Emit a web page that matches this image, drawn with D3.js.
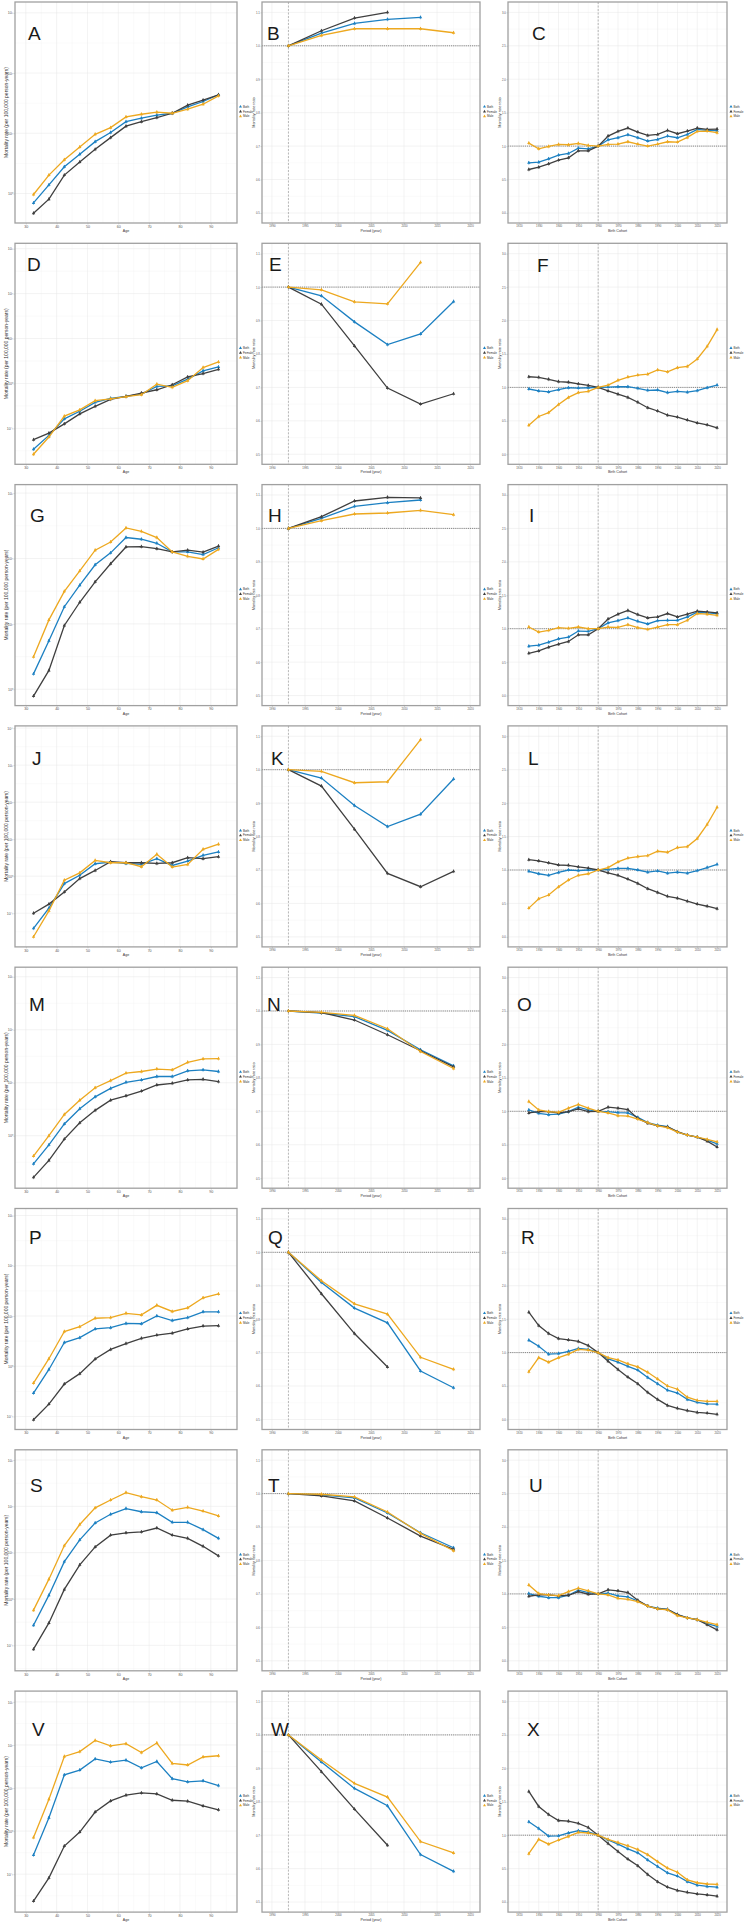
<!DOCTYPE html>
<html><head><meta charset="utf-8">
<script src="https://cdn.jsdelivr.net/npm/d3@7"></script>
<style>
body{margin:0;background:#fff}
svg text{font-family:"Liberation Sans",Arial,sans-serif}
</style>
</head><body>
<svg id="chart" width="750" height="1932"></svg>
<script>
// ---------------- DATA ----------------
const sexes = ["Both","Female","Male"];
const ages = [32.5,37.5,42.5,47.5,52.5,57.5,62.5,67.5,72.5,77.5,82.5,87.5,92.5];
const periods = [1992.5,1997.5,2002.5,2007.5,2012.5,2017.5];
const cohorts = [1925,1930,1935,1940,1945,1950,1955,1960,1965,1970,1975,1980,1985,1990,1995,2000,2005,2010,2015,2020];
const ageTicks = [30,40,50,60,70,80,90];
const periodTicks = [1990,1995,2000,2005,2010,2015,2020];
const cohortTicks = [1920,1930,1940,1950,1960,1970,1980,1990,2000,2010,2020];
const periodRatioTicks = [0.5,0.6,0.7,0.8,0.9,1.0,1.1];
const cohortRatioTicks = [0,0.5,1,1.5,2,2.5,3];

// Age effects: mortality rate per 100,000 person-years
const A_both   = [0.698,1.39,2.78,4.47,7.26,10.3,15.6,17.8,20.0,21.5,27.5,33.7,43.6];
const A_female = [0.470,0.805,2.02,3.33,5.41,8.47,13.1,15.6,18.2,21.5,29.3,35.5,43.6];
const A_male   = [0.962,2.02,3.64,5.92,9.62,12.4,18.7,20.7,22.4,21.5,25.1,30.4,41.9];
const D_both   = [0.0342,0.0697,0.163,0.240,0.380,0.467,0.516,0.581,0.859,0.887,1.25,1.91,2.33];
const D_female = [0.0560,0.0785,0.126,0.210,0.310,0.443,0.516,0.611,0.724,0.935,1.40,1.66,2.07];
const D_male   = [0.0265,0.0641,0.187,0.258,0.414,0.451,0.507,0.562,0.966,0.817,1.15,2.26,3.01];
const G_both   = [1.72,5.51,18.3,39.0,80.2,122,209,197,171,126,126,115,146];
const G_female = [0.787,1.94,9.44,21.4,44.0,83.2,150,152,141,126,134,125,155];
const G_male   = [3.13,11.5,31.4,64.6,134,179,293,260,209,126,108,98.4,138];
const J_both   = [0.0390,0.137,0.631,1.06,2.17,2.41,2.21,2.08,2.97,1.95,2.56,3.66,4.52];
const J_female = [0.100,0.176,0.374,0.863,1.43,2.46,2.31,2.31,2.21,2.31,3.16,2.97,3.37];
const J_male   = [0.0231,0.116,0.778,1.23,2.67,2.31,2.31,1.80,3.90,1.76,2.08,5.34,7.31];
const M_both   = [0.295,0.673,1.67,3.24,5.42,7.82,10.2,11.3,13.1,13.1,16.8,17.5,16.3];
const M_female = [0.164,0.342,0.863,1.75,3.01,4.68,5.66,6.95,9.06,9.75,11.3,11.6,10.5];
const M_male   = [0.414,1.00,2.52,4.68,8.05,11.0,15.2,16.3,18.1,17.5,24.3,28.1,28.5];
const P_both   = [0.292,0.861,2.96,3.70,5.52,5.86,7.11,7.00,10.0,8.13,9.29,12.1,12.1];
const P_female = [0.0861,0.176,0.442,0.711,1.39,2.16,2.83,3.59,4.16,4.55,5.52,6.31,6.40];
const P_male   = [0.462,1.41,4.90,6.12,9.02,9.29,11.3,10.5,16.3,12.3,14.5,23.0,27.5];
const S_both   = [0.272,1.21,6.41,18.9,43.8,67.3,89.5,76.4,72.8,45.2,45.2,31.4,20.4];
const S_female = [0.0826,0.304,1.61,5.47,13.3,23.9,26.8,28.1,34.0,23.9,20.4,13.7,8.53];
const S_male   = [0.574,2.68,14.2,40.5,92.5,137,198,161,137,82.6,95.3,78.9,62.1];
const V_both   = [0.279,2.04,20.2,26.1,47.3,39.9,44.3,29.4,41.3,16.5,13.9,14.7,11.4];
const V_female = [0.0238,0.0822,0.450,0.951,2.77,5.02,6.82,7.69,7.29,5.20,4.94,3.83,3.12];
const V_male   = [0.711,5.47,54.2,70.0,127,95.1,107,66.5,111,37.3,34.3,52.5,56.1];

// Period effects: mortality rate ratio (null = not estimated)
const B_both   = [1,1.038,1.067,1.079,1.085,null];
const B_female = [1,1.045,1.083,1.100,null,null];
const B_male   = [1,1.031,1.051,1.051,1.051,1.039];
const E_both   = [1,0.974,0.896,0.828,0.860,0.957];
const E_female = [1,0.949,0.824,0.698,0.650,0.681];
const E_male   = [1,0.992,0.956,0.950,1.074,null];
const H_both   = [1,1.030,1.066,1.077,1.085,null];
const H_female = [1,1.035,1.082,1.093,1.091,null];
const H_male   = [1,1.023,1.043,1.046,1.054,1.041];
const K_both   = [1,0.975,0.893,0.830,0.867,0.972];
const K_female = [1,0.951,0.822,0.690,0.650,0.696];
const K_male   = [1,0.995,0.961,0.964,1.090,null];
const N_both   = [1,0.994,0.983,0.942,0.884,0.836];
const N_female = [1,0.995,0.973,0.929,0.881,0.833];
const N_male   = [1,0.996,0.987,0.947,0.879,0.828];
const Q_both   = [1,0.910,0.833,0.789,0.645,0.595];
const Q_female = [1,0.876,0.757,0.657,null,null];
const Q_male   = [1,0.915,0.846,0.815,0.686,0.650];
const T_both   = [1,0.996,0.987,0.942,0.883,0.838];
const T_female = [1,0.993,0.978,0.927,0.873,0.833];
const T_male   = [1,0.998,0.990,0.945,0.881,0.829];
const W_both   = [1,0.919,0.840,0.788,0.642,0.592];
const W_female = [1,0.890,0.778,0.670,null,null];
const W_male   = [1,0.925,0.855,0.814,0.681,0.647];

// Cohort effects: mortality rate ratio
const C_both   = [0.75,0.76,0.81,0.865,0.89,0.97,0.96,1.0,1.095,1.125,1.17,1.125,1.075,1.1,1.15,1.125,1.175,1.25,1.235,1.23];
const C_female = [0.65,0.685,0.735,0.79,0.825,0.93,0.93,1.0,1.15,1.22,1.27,1.21,1.16,1.175,1.235,1.185,1.225,1.27,1.25,1.255];
const C_male   = [1.045,0.96,0.995,1.025,1.02,1.04,1.01,1.0,1.025,1.03,1.065,1.03,1.0,1.03,1.065,1.06,1.13,1.22,1.225,1.2];
const F_both   = [0.976,0.947,0.932,0.966,0.995,0.990,0.995,1.0,1.005,1.01,1.01,0.986,0.957,0.961,0.923,0.942,0.928,0.952,0.995,1.034];
const F_female = [1.159,1.150,1.121,1.087,1.077,1.053,1.029,1.0,0.947,0.899,0.850,0.778,0.696,0.647,0.585,0.556,0.512,0.469,0.440,0.396];
const F_male   = [0.435,0.565,0.623,0.744,0.850,0.923,0.942,1.0,1.034,1.106,1.155,1.184,1.198,1.261,1.232,1.295,1.314,1.425,1.614,1.865];
const I_both   = [0.738,0.753,0.798,0.849,0.874,0.965,0.96,1.0,1.086,1.121,1.161,1.111,1.071,1.121,1.126,1.126,1.176,1.247,1.237,1.227];
const I_female = [0.632,0.667,0.723,0.768,0.809,0.909,0.909,1.0,1.146,1.217,1.272,1.212,1.161,1.176,1.227,1.176,1.217,1.262,1.252,1.237];
const I_male   = [1.025,0.95,0.975,1.015,1.005,1.025,1.0,1.0,1.025,1.02,1.06,1.015,0.99,1.025,1.06,1.06,1.126,1.227,1.217,1.2];
const L_both   = [0.981,0.944,0.921,0.963,1.0,0.991,1.0,1.0,1.009,1.023,1.023,1.0,0.967,0.986,0.953,0.967,0.953,0.991,1.037,1.084];
const L_female = [1.154,1.136,1.107,1.075,1.070,1.047,1.028,1.0,0.958,0.921,0.864,0.799,0.720,0.664,0.607,0.579,0.533,0.491,0.458,0.421];
const L_male   = [0.430,0.570,0.626,0.748,0.850,0.921,0.944,1.0,1.037,1.121,1.178,1.201,1.215,1.280,1.266,1.336,1.350,1.472,1.682,1.939];
const O_both   = [1.020,0.970,0.949,0.959,0.995,1.061,1.020,1.0,0.995,0.980,0.975,0.909,0.832,0.792,0.772,0.690,0.645,0.614,0.569,0.513];
const O_female = [0.975,0.995,0.995,0.975,0.995,1.036,0.995,1.0,1.061,1.046,1.025,0.893,0.822,0.782,0.767,0.695,0.645,0.614,0.553,0.467];
const O_male   = [1.147,1.020,0.995,0.985,1.046,1.102,1.046,1.0,0.975,0.934,0.929,0.883,0.832,0.782,0.756,0.690,0.645,0.614,0.579,0.543];
const R_both   = [1.186,1.095,0.976,0.986,1.019,1.062,1.048,1.0,0.905,0.857,0.795,0.738,0.629,0.533,0.438,0.395,0.3,0.257,0.233,0.229];
const R_female = [1.605,1.405,1.286,1.210,1.190,1.167,1.105,1.0,0.871,0.748,0.633,0.533,0.405,0.3,0.210,0.167,0.133,0.105,0.095,0.076];
const R_male   = [0.714,0.924,0.857,0.924,0.976,1.048,1.038,1.0,0.924,0.890,0.833,0.786,0.705,0.605,0.5,0.452,0.333,0.286,0.271,0.271];
const U_both   = [1.005,0.965,0.944,0.944,0.980,1.056,1.020,1.0,1.010,0.970,0.954,0.894,0.818,0.787,0.767,0.691,0.641,0.615,0.554,0.514];
const U_female = [0.965,0.985,0.985,0.970,0.980,1.035,0.995,1.0,1.061,1.046,1.020,0.904,0.818,0.777,0.767,0.691,0.641,0.615,0.539,0.463];
const U_male   = [1.132,1.005,0.985,0.975,1.035,1.086,1.046,1.0,0.985,0.934,0.919,0.884,0.818,0.777,0.762,0.676,0.641,0.615,0.575,0.539];
const X_both   = [1.200,1.100,0.986,0.990,1.033,1.067,1.048,1.0,0.928,0.866,0.795,0.737,0.628,0.533,0.437,0.389,0.305,0.253,0.234,0.222];
const X_female = [1.654,1.430,1.310,1.220,1.210,1.177,1.115,1.0,0.876,0.757,0.642,0.542,0.413,0.303,0.224,0.174,0.146,0.122,0.107,0.088];
const X_male   = [0.723,0.938,0.866,0.928,0.981,1.043,1.033,1.0,0.938,0.890,0.842,0.785,0.709,0.605,0.508,0.446,0.332,0.289,0.270,0.265];

// ---------------- LAYOUT / STYLE ----------------
const colors = {Both:"#1c80c2", Female:"#3f3f3f", Male:"#eda81f"};
const COLX = [[15,237],[262,480],[508,727]];
const ROW0 = 2, ROWSTEP = 241.3, BOXH = 221;
const LEGX = [240.5, 484.5, 731];
const letterPos = {A:[28,38],B:[267,38],C:[532,38],D:[27,28],E:[269,28],F:[537,29],
  G:[30,37],H:[268,37],I:[529,37],J:[32,39],K:[271,39],L:[528,39],
  M:[29,44],N:[267,44],O:[517,44],P:[29,35],Q:[268,35],R:[521,35],
  S:[30,42],T:[268,42],U:[529,42],V:[32,45],W:[271,45],X:[527,45]};
// log10 extent of the age-panel y axes
const ageLogExtent = {A:[-0.49,3.18],D:[-1.80,3.12],G:[-0.25,3.13],J:[-1.91,4.06],
  M:[-0.99,3.18],P:[-1.26,3.14],S:[-1.55,3.22],V:[-1.88,3.25]};

const series = {
  A:[A_both,A_female,A_male],B:[B_both,B_female,B_male],C:[C_both,C_female,C_male],
  D:[D_both,D_female,D_male],E:[E_both,E_female,E_male],F:[F_both,F_female,F_male],
  G:[G_both,G_female,G_male],H:[H_both,H_female,H_male],I:[I_both,I_female,I_male],
  J:[J_both,J_female,J_male],K:[K_both,K_female,K_male],L:[L_both,L_female,L_male],
  M:[M_both,M_female,M_male],N:[N_both,N_female,N_male],O:[O_both,O_female,O_male],
  P:[P_both,P_female,P_male],Q:[Q_both,Q_female,Q_male],R:[R_both,R_female,R_male],
  S:[S_both,S_female,S_male],T:[T_both,T_female,T_male],U:[U_both,U_female,U_male],
  V:[V_both,V_female,V_male],W:[W_both,W_female,W_male],X:[X_both,X_female,X_male]};
const letters = "ABCDEFGHIJKLMNOPQRSTUVWX".split("");

const svg = d3.select("#chart");
svg.append("rect").attr("width",750).attr("height",1932).attr("fill","#fff");

const supMap = {"-":"\u207B","0":"\u2070","1":"\u00B9","2":"\u00B2","3":"\u00B3","4":"\u2074","5":"\u2075"};
const logFmt = v => "10" + String(Math.round(Math.log10(v))).split("").map(c=>supMap[c]).join("");

letters.forEach((id,i)=>{
  const row = Math.floor(i/3), col = i%3;
  const [x0,x1] = COLX[col];
  const yT = ROW0 + ROWSTEP*row, yB = yT + BOXH;
  const g = svg.append("g");
  let x, y, xs, xTicks, xMinor, yTicks, yMinor, xTitle, yTitle, yFmt, tickFs, titleFs;
  if(col===0){
    const ext = ageLogExtent[id];
    x = d3.scaleLinear().domain([26.5,98.5]).range([x0,x1]);
    y = d3.scaleLog().domain([10**ext[0],10**ext[1]]).range([yB,yT]);
    xs = ages; xTicks = ageTicks; xMinor = d3.range(25,100,10);
    const e0 = Math.ceil(ext[0]), e1 = Math.floor(ext[1]);
    yTicks = d3.range(e0,e1+1).map(e=>10**e);
    yMinor = d3.range(Math.floor(ext[0]),e1+1).map(e=>10**(e+0.5));
    xTitle = "Age"; yTitle = "Mortality rate (per 100,000 person-years)"; yFmt = logFmt;
    tickFs = 3.6; titleFs = 5;
  } else if(col===1){
    x = d3.scaleLinear().domain([1988.5,2021.5]).range([x0,x1]);
    y = d3.scaleLinear().domain([0.47,1.131]).range([yB,yT]);
    xs = periods; xTicks = periodTicks; xMinor = d3.range(1992.5,2020,5);
    yTicks = periodRatioTicks; yMinor = [0.55,0.65,0.75,0.85,0.95,1.05];
    xTitle = "Period (year)"; yTitle = "Mortality rate ratio"; yFmt = d3.format(".1f");
    tickFs = 2.8; titleFs = 3.8;
  } else {
    x = d3.scaleLinear().domain([1914.5,2025]).range([x0,x1]);
    y = d3.scaleLinear().domain([-0.15,3.155]).range([yB,yT]);
    xs = cohorts; xTicks = cohortTicks; xMinor = d3.range(1915,2025,10);
    yTicks = cohortRatioTicks; yMinor = [0.25,0.75,1.25,1.75,2.25,2.75];
    xTitle = "Birth Cohort"; yTitle = "Mortality rate ratio"; yFmt = d3.format(".1f");
    tickFs = 2.8; titleFs = 3.8;
  }
  // grid
  g.selectAll(".mx").data(xMinor.filter(v=>x(v)>x0&&x(v)<x1)).join("line")
    .attr("x1",d=>x(d)).attr("x2",d=>x(d)).attr("y1",yT).attr("y2",yB)
    .attr("stroke","#f2f2f2").attr("stroke-width",0.4);
  g.selectAll(".my").data(yMinor.filter(v=>y(v)>yT&&y(v)<yB)).join("line")
    .attr("x1",x0).attr("x2",x1).attr("y1",d=>y(d)).attr("y2",d=>y(d))
    .attr("stroke","#f2f2f2").attr("stroke-width",0.4);
  g.selectAll(".gx").data(xTicks).join("line")
    .attr("x1",d=>x(d)).attr("x2",d=>x(d)).attr("y1",yT).attr("y2",yB)
    .attr("stroke","#e6e6e6").attr("stroke-width",0.5);
  g.selectAll(".gy").data(yTicks).join("line")
    .attr("x1",x0).attr("x2",x1).attr("y1",d=>y(d)).attr("y2",d=>y(d))
    .attr("stroke","#e6e6e6").attr("stroke-width",0.5);
  // reference lines
  if(col>0){
    g.append("line").attr("x1",x0).attr("x2",x1).attr("y1",y(1)).attr("y2",y(1))
      .attr("stroke","#555").attr("stroke-width",0.7).attr("stroke-dasharray","1.2,0.9");
    const rx = col===1 ? periods[0] : cohorts[7];
    g.append("line").attr("x1",x(rx)).attr("x2",x(rx)).attr("y1",yT).attr("y2",yB)
      .attr("stroke","#9a9a9a").attr("stroke-width",0.7).attr("stroke-dasharray","2,1.5");
  }
  // axes
  const ax = g.append("g").attr("transform",`translate(0,${yB})`)
    .call(d3.axisBottom(x).tickValues(xTicks).tickSize(1.5).tickPadding(0.8).tickFormat(d3.format("d")));
  const ay = g.append("g").attr("transform",`translate(${x0},0)`)
    .call(d3.axisLeft(y).tickValues(yTicks).tickSize(1.5).tickPadding(0.6).tickFormat(yFmt));
  [ax,ay].forEach(a=>{
    a.select(".domain").remove();
    a.selectAll("line").attr("stroke","#aaa").attr("stroke-width",0.5);
    a.selectAll("text").attr("font-size",tickFs).attr("fill","#555").attr("font-family","Liberation Sans, Arial, sans-serif");
  });
  // panel border
  g.append("rect").attr("x",x0).attr("y",yT).attr("width",x1-x0).attr("height",yB-yT)
    .attr("fill","none").attr("stroke","#a0a0a0").attr("stroke-width",1.3);
  // series
  const line = d3.line().defined(d=>d[1]!=null).x(d=>x(d[0])).y(d=>y(d[1]));
  const tri = d3.symbol().type(d3.symbolTriangle).size(5);
  series[id].forEach((vals,k)=>{
    const c = colors[sexes[k]];
    const pts = xs.map((xv,j)=>[xv,vals[j]]);
    g.append("path").attr("d",line(pts)).attr("fill","none").attr("stroke",c).attr("stroke-width",1.3);
    const def = pts.filter(d=>d[1]!=null);
    g.selectAll(null).data(def).join("line")
      .attr("x1",d=>x(d[0])).attr("x2",d=>x(d[0])).attr("y1",d=>y(d[1])-1.8).attr("y2",d=>y(d[1])+1.8)
      .attr("stroke",c).attr("stroke-width",0.6);
    g.selectAll(null).data(def).join("path").attr("d",tri)
      .attr("transform",d=>`translate(${x(d[0])},${y(d[1])})`).attr("fill",c);
  });
  // titles
  g.append("text").attr("x",(x0+x1)/2).attr("y",yB+9).attr("text-anchor","middle")
    .attr("font-size",3.6).attr("fill","#333").text(xTitle);
  g.append("text").attr("transform",`translate(${x0-7},${(yT+yB)/2}) rotate(-90)`)
    .attr("text-anchor","middle").attr("font-size",titleFs).attr("fill","#333").text(yTitle);
  // legend
  const lc = (yT+yB)/2 - 1;
  sexes.forEach((s,k)=>{
    const ly = lc + (k-1)*4.8;
    g.append("path").attr("d",d3.symbol().type(d3.symbolTriangle).size(4)())
      .attr("transform",`translate(${LEGX[col]},${ly})`).attr("fill",colors[s]);
    g.append("text").attr("x",LEGX[col]+2.4).attr("y",ly+1).attr("font-size",3)
      .attr("fill","#333").text(s);
  });
  // panel letter
  const lp = letterPos[id];
  g.append("text").attr("x",lp[0]).attr("y",yT+lp[1]).attr("font-size",19)
    .attr("fill","#1a1a1a").attr("font-weight",300)
    .attr("font-family","Open Sans, Liberation Sans, Arial, sans-serif").text(id);
});
</script>
</body></html>
